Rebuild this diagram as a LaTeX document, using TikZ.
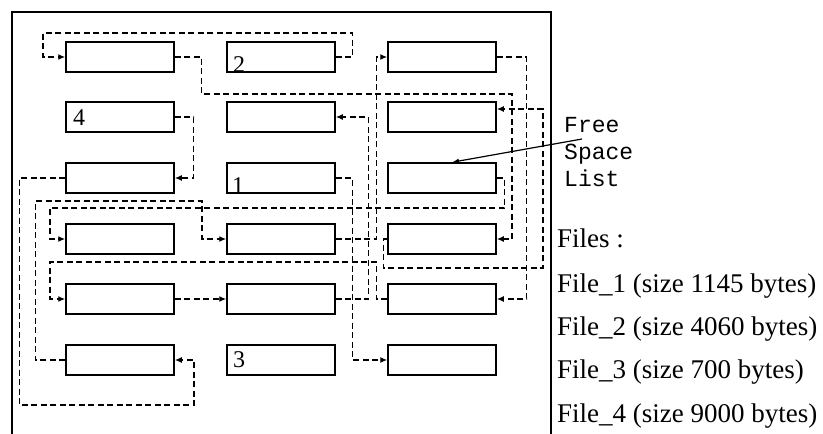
\documentclass[tikz,border=0pt]{standalone}
\usepackage{fontspec}
\setmainfont{Liberation Serif}
\setmonofont{Liberation Mono}
\usetikzlibrary{arrows.meta}

\tikzset{
  blk/.style={draw, line width=1.5pt, minimum width=108pt, minimum height=30pt, inner sep=0pt},
  link/.style={line width=1.3pt, dash pattern=on 6pt off 3.5pt, -{Latex[length=7pt,width=6pt]}},
  num/.style={font=\fontsize{24}{24}\selectfont, anchor=base west, inner sep=0pt},
  lbl/.style={font=\fontsize{27}{27}\selectfont, anchor=base west, inner sep=0pt}
}

\begin{document}
\begin{tikzpicture}[x=1pt, y=-1pt]
    \useasboundingbox (0,0) rectangle (823,434);
    % frame, open at the bottom
    \draw[line width=2pt] (12,434) -- (12,12) -- (551,12) -- (551,434);

    % disk blocks b<row><col>
    \foreach \c/\x in {1/120, 2/281, 3/442}
      \foreach \r/\y in {1/57, 2/117, 3/178, 4/239, 5/299, 6/360}
        \node[blk] (b\r\c) at (\x,\y) {};

    \node[num] (n2) at (233,72) {2};
    \node[num] (n4) at (73,125) {4};
    \node[num] (n1) at (232,193) {1};
    \node[num] (n3) at (233,367) {3};

    % File_2
    \draw[link] (b12.east) -- ++(17,0) |- (43,33) |- (b11.west);
    \draw[link] (b11.east) -- ++(27,0) |- (512,94) |- (b43.east);
    \draw[link] (b43.west) -- ++(-4,0) |- (543,268) |- ([yshift=8pt]b23.east);

    % File_1
    \draw[link] (b32.east) -- ++(17,0) |- (b63.west);

    % File_4
    \draw[link] (b21.east) -- ++(19,0) |- (b31.east);
    \draw[link] (b31.west) -- ++(-46,0) |- (194,405) |- (b61.east);
    \draw[link] (b61.west) -- ++(-30,0) |- (202,201) |- (b42.west);
    \draw[link] (b42.east) -- ++(41,0) |- (b13.west);
    \draw[link] (b13.east) -- ++(30,0) |- (b53.east);
    \draw[link] (b53.west) -- ++(-11,0) |- (50,262) |- (b51.west);
    \draw[link] (b51.east) -- (b52.west);
    \draw[link] (b52.east) -- ++(33,0) |- (b22.east);

    % free space list
    \draw[link] (b33.east) -- ++(8,0) |- (50,208) |- (b41.west);
    \node[font=\ttfamily\fontsize{23}{27}\selectfont, align=left, anchor=base west, inner sep=0pt] (fsl) at (564,186) {Free\\Space\\List};
    \coordinate (fslp) at (582,139);
    \draw[line width=1.2pt, -{Latex[length=7pt,width=5pt]}] (fslp) -- ([xshift=10pt]b33.north);

    \node[lbl] (files) at (557,247) {Files :};
    \node[lbl] (f1) at (557,292) {File\_1 (size 1145 bytes)};
    \node[lbl] (f2) at (557,335) {File\_2 (size 4060 bytes)};
    \node[lbl] (f3) at (557,378) {File\_3 (size 700 bytes)};
    \node[lbl] (f4) at (557,422) {File\_4 (size 9000 bytes)};
\end{tikzpicture}
\end{document}
